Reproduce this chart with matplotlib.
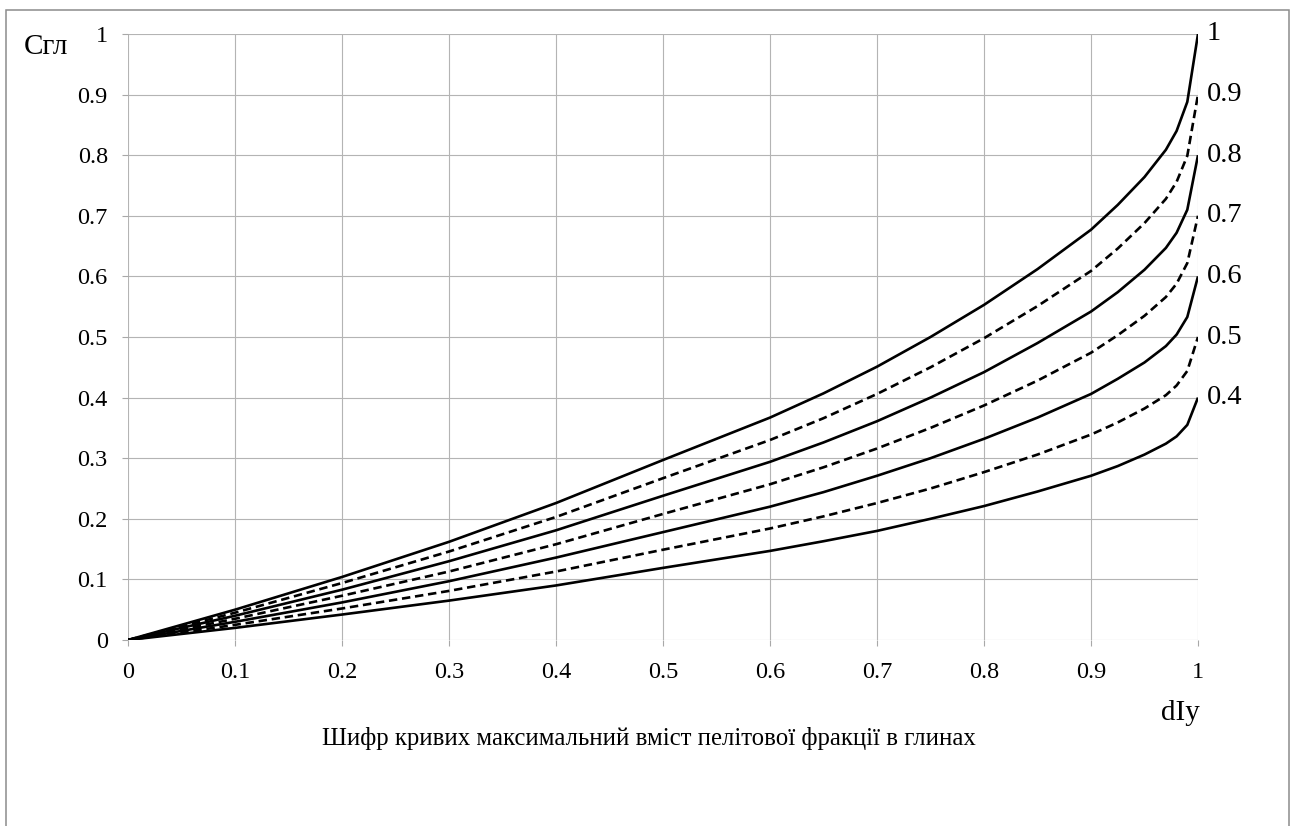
import matplotlib
matplotlib.use("Agg")
import matplotlib.pyplot as plt
from matplotlib.patches import Rectangle

# dIy values where curves were read
x_vals = [0, 0.1, 0.2, 0.3, 0.4, 0.5, 0.6, 0.65, 0.7, 0.75, 0.8, 0.85, 0.9, 0.925, 0.95, 0.97, 0.98, 0.99, 1.0]

# Сгл for each curve cipher (max pelite fraction content in clays)
c_10 = [0, 0.050, 0.104, 0.162, 0.226, 0.297, 0.367, 0.407, 0.451, 0.500, 0.553, 0.612, 0.677, 0.718, 0.764, 0.809, 0.840, 0.888, 1.000]
c_09 = [0, 0.045, 0.094, 0.146, 0.203, 0.267, 0.330, 0.366, 0.406, 0.450, 0.498, 0.551, 0.609, 0.646, 0.688, 0.728, 0.756, 0.799, 0.900]
c_08 = [0, 0.040, 0.083, 0.130, 0.181, 0.238, 0.294, 0.326, 0.361, 0.400, 0.442, 0.490, 0.542, 0.574, 0.611, 0.647, 0.672, 0.710, 0.800]
c_07 = [0, 0.035, 0.073, 0.113, 0.158, 0.208, 0.257, 0.285, 0.316, 0.350, 0.387, 0.428, 0.474, 0.503, 0.535, 0.566, 0.588, 0.622, 0.700]
c_06 = [0, 0.030, 0.062, 0.097, 0.136, 0.178, 0.220, 0.244, 0.271, 0.300, 0.332, 0.367, 0.406, 0.431, 0.458, 0.485, 0.504, 0.533, 0.600]
c_05 = [0, 0.025, 0.052, 0.081, 0.113, 0.149, 0.184, 0.204, 0.226, 0.250, 0.277, 0.306, 0.339, 0.359, 0.382, 0.404, 0.420, 0.444, 0.500]
c_04 = [0, 0.020, 0.042, 0.065, 0.090, 0.119, 0.147, 0.163, 0.180, 0.200, 0.221, 0.245, 0.271, 0.287, 0.306, 0.324, 0.336, 0.355, 0.400]

curve_labels = ["1", "0.9", "0.8", "0.7", "0.6", "0.5", "0.4"]
curve_ends = [1.0, 0.9, 0.8, 0.7, 0.6, 0.5, 0.4]
curves = [c_10, c_09, c_08, c_07, c_06, c_05, c_04]

ticks = [0, 0.1, 0.2, 0.3, 0.4, 0.5, 0.6, 0.7, 0.8, 0.9, 1]
tick_labels = ["0", "0.1", "0.2", "0.3", "0.4", "0.5", "0.6", "0.7", "0.8", "0.9", "1"]

plt.rcParams["font.family"] = ["Liberation Serif", "DejaVu Serif"]

fig = plt.figure(figsize=(12.93, 8.26), dpi=100)
ax = fig.add_axes([128 / 1293, 1 - 640 / 826, 1070 / 1293, 606 / 826])

for i, ys in enumerate(curves):
    if i % 2 == 0:
        ax.plot(x_vals, ys, color="black", lw=1.9, solid_capstyle="butt")
    else:
        ax.plot(x_vals, ys, color="black", lw=1.9, ls=(0, (3.2, 1.8)))

for lab, yv in zip(curve_labels, curve_ends):
    ax.text(1.008, yv, lab, ha="left", va="center", fontsize=20.5, clip_on=False)

ax.set_xlim(0, 1)
ax.set_ylim(0, 1)
ax.set_xticks(ticks)
ax.set_xticklabels(tick_labels)
ax.set_yticks(ticks)
ax.set_yticklabels(tick_labels)
ax.tick_params(axis="both", length=4.5, width=0.8, color="#a8a8a8", labelsize=17.5)
ax.tick_params(axis="x", pad=11)
ax.tick_params(axis="y", pad=10)
ax.grid(True, color="#b4b4b4", lw=0.8)
ax.set_axisbelow(True)
for s in ax.spines.values():
    s.set_visible(False)

fig.text(46 / 1293, 1 - 47 / 826, "Сгл", ha="center", va="center", fontsize=21)
fig.text(1180 / 1293, 1 - 713 / 826, "dIy", ha="center", va="center", fontsize=21)
fig.text(649 / 1293, 1 - 738 / 826, "Шифр кривих максимальний вміст пелітової фракції в глинах",
         ha="center", va="center", fontsize=17.8)

fig.patches.append(Rectangle((6 / 1293, -0.02), 1283 / 1293, 1 - 10 / 826 + 0.02,
                             transform=fig.transFigure, fill=False,
                             edgecolor="#8c8c8c", lw=1.1))

fig.savefig("out.png", dpi=100)
